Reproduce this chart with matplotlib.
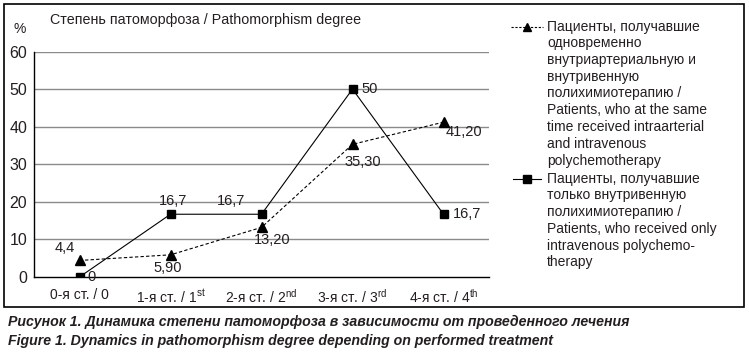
import matplotlib.pyplot as plt
from matplotlib.lines import Line2D
from matplotlib.patches import Rectangle

plt.rcParams['font.family'] = ['Liberation Sans', 'DejaVu Sans']
plt.rcParams['mathtext.fontset'] = 'custom'
plt.rcParams['mathtext.rm'] = 'Liberation Sans'

# data
categories = ['0-я ст. / 0',
              r'1-я ст. / 1$^{\mathrm{st}}$',
              r'2-я ст. / 2$^{\mathrm{nd}}$',
              r'3-я ст. / 3$^{\mathrm{rd}}$',
              r'4-я ст. / 4$^{\mathrm{th}}$']
combined = [4.4, 5.9, 13.2, 35.3, 41.2]
combined_labels = ['4,4', '5,90', '13,20', '35,30', '41,20']
iv_only = [0, 16.7, 16.7, 50, 16.7]
iv_labels = ['0', '16,7', '16,7', '50', '16,7']
yticks = [0, 10, 20, 30, 40, 50, 60]

legend_1 = ('Пациенты, получавшие\nодновременно\nвнутриартериальную и\nвнутривенную\n'
            'полихимиотерапию /\nPatients, who at the same\ntime received intraarterial\n'
            'and intravenous\npolychemotherapy')
legend_2 = ('Пациенты, получавшие\nтолько внутривенную\nполихимиотерапию /\n'
            'Patients, who received only\nintravenous polychemo-\ntherapy')

W, H = 749, 353
txt = '#231f20'

fig = plt.figure(figsize=(W / 100, H / 100), dpi=100)


def fx(px):
    return px / W


def fy(py):
    return 1 - py / H


ax = fig.add_axes([fx(34), fy(277), fx(489) - fx(34), fy(51.5) - fy(277)])
x = [i + 0.5 for i in range(len(categories))]

ax.plot(x, combined, color='black', lw=0.8, ls=(0, (3, 2)), marker='^', ms=6.5,
        zorder=3)
ax.plot(x, iv_only, color='black', lw=0.8, marker='s', ms=6.3, zorder=4)

# point labels (offsets in pixels, converted to points)
comb_off = [(-15, 12, 'center'), (-3, -13, 'center'), (11, -13, 'center'),
            (10, -18, 'center'), (20, -10, 'center')]
iv_off = [(8, 0, 'left'), (3, 13, 'center'), (-30, 13, 'center'),
          (9, 0, 'left'), (9, 0, 'left')]
for xi, v, lab, (dx, dy, ha) in zip(x, combined, combined_labels, comb_off):
    ax.annotate(lab, (xi, v), xytext=(dx * 0.72, dy * 0.72), textcoords='offset points',
                ha=ha, va='center', fontsize=10.5, color=txt)
for xi, v, lab, (dx, dy, ha) in zip(x, iv_only, iv_labels, iv_off):
    ax.annotate(lab, (xi, v), xytext=(dx * 0.72, dy * 0.72), textcoords='offset points',
                ha=ha, va='center', fontsize=10.5, color=txt)

ax.set_xlim(0, 5)
ax.set_ylim(0, 60)
ax.set_yticks(yticks)
ax.set_xticks(x)
ax.set_xticklabels(categories)
ax.tick_params(axis='y', length=0, pad=5, labelsize=11.5, labelcolor=txt)
ax.tick_params(axis='x', length=0, pad=8, labelsize=10, labelcolor=txt)
for yv in yticks[1:]:
    ax.axhline(yv, color='#8a8a8a', lw=1, zorder=1)
for s in ['top', 'right']:
    ax.spines[s].set_visible(False)
ax.spines['left'].set_linewidth(1)
ax.spines['bottom'].set_linewidth(1)

fig.text(fx(50), fy(20), 'Степень патоморфоза / Pathomorphism degree',
         fontsize=10.3, color=txt, va='center')
fig.text(fx(20), fy(29), '%', fontsize=10, color=txt, va='center', ha='center')

# legend drawn by hand
fig.add_artist(Line2D([fx(511), fx(543)], [fy(27), fy(27)], color='black', lw=0.8,
                      ls=(0, (2, 1.5))))
fig.add_artist(Line2D([fx(527)], [fy(27)], color='black', marker='^', ms=6, ls='none'))
fig.text(fx(547), fy(19.5), legend_1, fontsize=10, color=txt, va='top',
         linespacing=1.25)
fig.add_artist(Line2D([fx(513), fx(541)], [fy(179), fy(179)], color='black', lw=0.8))
fig.add_artist(Line2D([fx(527)], [fy(179)], color='black', marker='s', ms=6, ls='none'))
fig.text(fx(547), fy(171.5), legend_2, fontsize=10, color=txt, va='top',
         linespacing=1.25)

fig.add_artist(Rectangle((fx(4), fy(307)), fx(744) - fx(4), fy(4) - fy(307),
                         fill=False, ec='black', lw=1.2, transform=fig.transFigure))

fig.text(fx(8), fy(322), 'Рисунок 1. Динамика степени патоморфоза в зависимости от проведенного лечения',
         fontsize=10.2, fontweight='bold', style='italic', va='center', color=txt)
fig.text(fx(8), fy(341), 'Figure 1. Dynamics in pathomorphism degree depending on performed treatment',
         fontsize=10.2, fontweight='bold', style='italic', va='center', color=txt)

fig.savefig('out.png', dpi=100)
